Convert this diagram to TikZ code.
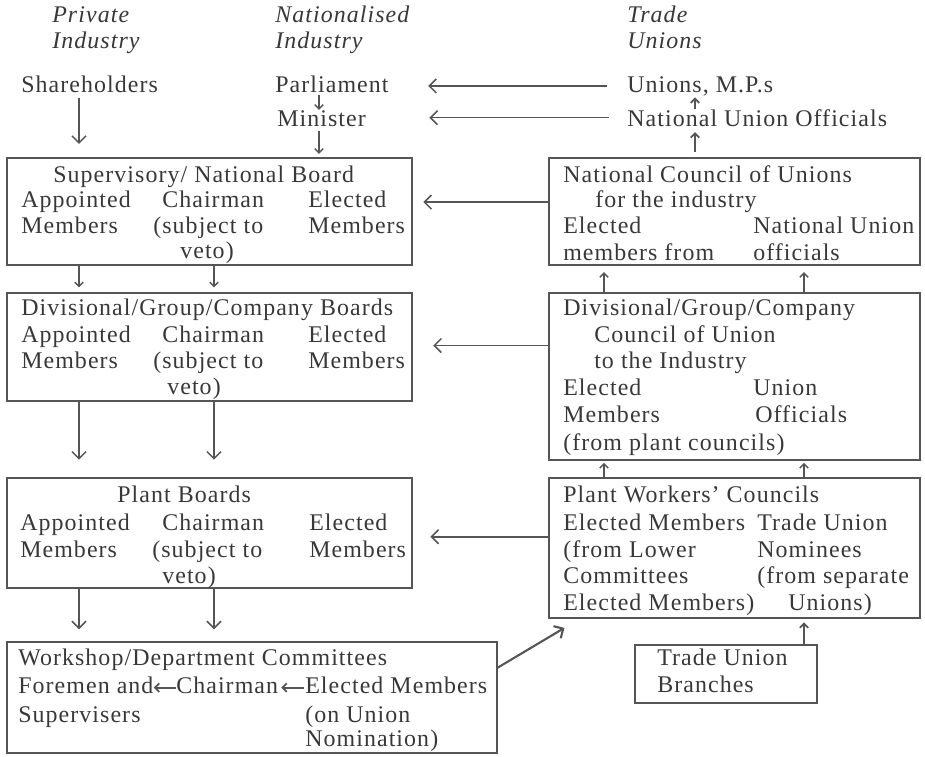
\documentclass[tikz,border=0pt]{standalone}
\usepackage{fontspec}
\setmainfont{Liberation Serif}[LetterSpace=4.5]
\usetikzlibrary{arrows.meta}

\definecolor{ink}{HTML}{383838}
\definecolor{rule}{HTML}{555555}

\begin{document}
\begin{tikzpicture}[
  x=0.025cm, y=-0.025cm,
  font=\fontsize{17pt}{19pt}\selectfont,
  box/.style={draw=rule, line width=1.6pt, anchor=north west,
              inner sep=0pt, outer sep=0pt},
  txt/.style={anchor=base west, inner sep=0pt, text=ink},
  hd/.style={txt, font=\fontsize{17pt}{19pt}\selectfont\itshape},
  arr/.style={-{Straight Barb[length=5pt,width=10pt]}, line width=1.1pt, draw=rule},
  sarr/.style={-{Straight Barb[length=3pt,width=6pt]}, line width=1pt, draw=rule},
]
\useasboundingbox (0,0) rectangle (925,756);

% --- headings ---
\node[hd] (h-pi1) at (52,22)  {Private};
\node[hd] (h-pi2) at (52,48)  {Industry};
\node[hd] (h-ni1) at (275,22) {Nationalised};
\node[hd] (h-ni2) at (275,48) {Industry};
\node[hd] (h-tu1) at (627,22) {Trade};
\node[hd] (h-tu2) at (627,48) {Unions};

% --- top line ---
\node[txt] (sh)   at (21,92)   {Shareholders};
\node[txt] (parl) at (275,92)  {Parliament};
\node[txt] (min)  at (277,126) {Minister};
\node[txt] (ump)  at (627,92)  {Unions, M.P.s};
\node[txt] (nuo)  at (627,126) {National Union Officials};

% --- boxes ---
\node[box, minimum width=10.125cm, minimum height=2.675cm] (sup)   at (7,158)   {};
\node[box, minimum width=10.125cm, minimum height=2.7cm]   (div)   at (7,293)   {};
\node[box, minimum width=10.125cm, minimum height=2.75cm]  (plant) at (7,478)   {};
\node[box, minimum width=12.25cm,  minimum height=2.775cm] (work)  at (7,642)   {};
\node[box, minimum width=9.275cm,  minimum height=2.675cm] (ncu)   at (549,158) {};
\node[box, minimum width=9.275cm,  minimum height=4.175cm] (dcu)   at (549,293) {};
\node[box, minimum width=9.275cm,  minimum height=3.5cm]   (pwc)   at (549,478) {};
\node[box, minimum width=4.55cm,   minimum height=1.45cm]  (tub)   at (635,645) {};

% --- supervisory board ---
\node[txt] (sup-t)  at (53,182)  {Supervisory/ National Board};
\node[txt] (sup-a1) at (21,207)  {Appointed};
\node[txt] (sup-a2) at (21,233)  {Members};
\node[txt] (sup-c1) at (162,207) {Chairman};
\node[txt] (sup-c2) at (153,233) {(subject to};
\node[txt] (sup-c3) at (180,258) {veto)};
\node[txt] (sup-e1) at (308,207) {Elected};
\node[txt] (sup-e2) at (308,233) {Members};

% --- divisional boards ---
\node[txt] (div-t)  at (21,315)  {Divisional/Group/Company Boards};
\node[txt] (div-a1) at (21,342)  {Appointed};
\node[txt] (div-a2) at (21,368)  {Members};
\node[txt] (div-c1) at (162,342) {Chairman};
\node[txt] (div-c2) at (153,368) {(subject to};
\node[txt] (div-c3) at (167,394) {veto)};
\node[txt] (div-e1) at (308,342) {Elected};
\node[txt] (div-e2) at (308,368) {Members};

% --- plant boards ---
\node[txt] (pl-t)  at (117,502) {Plant Boards};
\node[txt] (pl-a1) at (20,530)  {Appointed};
\node[txt] (pl-a2) at (20,557)  {Members};
\node[txt] (pl-c1) at (162,530) {Chairman};
\node[txt] (pl-c2) at (152,557) {(subject to};
\node[txt] (pl-c3) at (162,583) {veto)};
\node[txt] (pl-e1) at (309,530) {Elected};
\node[txt] (pl-e2) at (309,557) {Members};

% --- workshop committees ---
\node[txt] (w-t)  at (18,665)  {Workshop/Department Committees};
\node[txt] (w-fo) at (18,693)  {Foremen and};
\node[txt] (w-su) at (18,722)  {Supervisers};
\node[txt] (w-ch) at (176,693) {Chairman};
\node[txt] (w-el) at (305,693) {Elected Members};
\node[txt] (w-ou) at (305,722) {(on Union};
\node[txt] (w-no) at (305,746) {Nomination)};

% --- national council ---
\node[txt] (ncu-t)  at (563,182) {National Council of Unions};
\node[txt] (ncu-t2) at (595,207) {for the industry};
\node[txt] (ncu-e1) at (563,233) {Elected};
\node[txt] (ncu-e2) at (563,260) {members from};
\node[txt] (ncu-o1) at (753,233) {National Union};
\node[txt] (ncu-o2) at (753,260) {officials};

% --- divisional council ---
\node[txt] (dcu-t)  at (563,315) {Divisional/Group/Company};
\node[txt] (dcu-t2) at (594,342) {Council of Union};
\node[txt] (dcu-t3) at (594,368) {to the Industry};
\node[txt] (dcu-e1) at (563,395) {Elected};
\node[txt] (dcu-e2) at (563,422) {Members};
\node[txt] (dcu-e3) at (563,450) {(from plant councils)};
\node[txt] (dcu-o1) at (753,395) {Union};
\node[txt] (dcu-o2) at (755,422) {Officials};

% --- plant workers' councils ---
\node[txt] (pwc-t)  at (563,502) {Plant Workers' Councils};
\node[txt] (pwc-e1) at (563,530) {Elected Members};
\node[txt] (pwc-e2) at (563,557) {(from Lower};
\node[txt] (pwc-e3) at (563,583) {Committees};
\node[txt] (pwc-e4) at (563,610) {Elected Members)};
\node[txt] (pwc-n1) at (757,530) {Trade Union};
\node[txt] (pwc-n2) at (757,557) {Nominees};
\node[txt] (pwc-n3) at (757,583) {(from separate};
\node[txt] (pwc-n4) at (788,610) {Unions)};

% --- branches ---
\node[txt] (tub-1) at (657,665) {Trade Union};
\node[txt] (tub-2) at (657,692) {Branches};

% --- arrow columns ---
\coordinate (cl) at (79,0);
\coordinate (cm) at (214,0);
\coordinate (cp) at (319,0);
\coordinate (cu) at (695,0);
\coordinate (cr) at (604,0);
\coordinate (cs) at (804,0);

% --- downward chain ---
\draw[arr, shorten <=4pt, shorten >=10pt] (sh.south -| cl) -- (sup.north -| cl);
\draw[sarr, shorten <=2pt] (parl.south -| cp) -- (min.north -| cp);
\draw[sarr, shorten <=3pt, shorten >=3pt] (min.south -| cp) -- (sup.north -| cp);
\draw[sarr, shorten >=4pt] (sup.south -| cl) -- (div.north -| cl);
\draw[sarr, shorten >=4pt] (sup.south -| cm) -- (div.north -| cm);
\draw[arr, shorten >=13pt] (div.south -| cl) -- (plant.north -| cl);
\draw[arr, shorten >=13pt] (div.south -| cm) -- (plant.north -| cm);
\draw[arr, shorten >=9pt] (plant.south -| cl) -- (work.north -| cl);
\draw[arr, shorten >=9pt] (plant.south -| cm) -- (work.north -| cm);

% --- union side, upward ---
\draw[sarr, line width=1.3pt, shorten <=4pt, shorten >=4pt] (ncu.north -| cu) -- (nuo.south -| cu);
\draw[sarr, line width=1.3pt, shorten >=1pt] (nuo.north -| cu) -- (ump.south -| cu);
\draw[sarr, shorten >=5pt] (dcu.north -| cr) -- (ncu.south -| cr);
\draw[sarr, shorten >=5pt] (dcu.north -| cs) -- (ncu.south -| cs);
\draw[sarr, shorten >=2pt] (pwc.north -| cr) -- (dcu.south -| cr);
\draw[sarr, shorten >=2pt] (pwc.north -| cs) -- (dcu.south -| cs);
\draw[sarr, line width=1.3pt, shorten >=3pt] (tub.north -| cs) -- (pwc.south -| cs);
\draw[arr, line width=1.5pt] ([yshift=21pt]work.east) -- ([xshift=11pt,yshift=-7pt]pwc.south west);

% --- across ---
\draw[arr, shorten <=14pt, shorten >=28pt] (ump.west) -- (ump.west -| parl.east);
\draw[arr, shorten <=13pt, shorten >=45pt] (nuo.west) -- (nuo.west -| min.east);
\draw[arr, shorten >=8pt]  ([yshift=6.7pt]ncu.west) -- ([yshift=6.7pt]ncu.west -| sup.east);
\draw[arr, shorten >=15pt] ([yshift=22pt]dcu.west)  -- ([yshift=22pt]dcu.west -| div.east);
\draw[arr, shorten >=13pt] ([yshift=8pt]pwc.west)   -- ([yshift=8pt]pwc.west -| plant.east);

% --- inside workshop box ---
\draw[sarr, line width=1.3pt] ([yshift=-2pt]w-ch.west) -- ([yshift=-2pt]w-ch.west -| w-fo.east);
\draw[sarr, line width=1.3pt, shorten <=1pt, shorten >=2pt] ([yshift=-2pt]w-el.west) -- ([yshift=-2pt]w-el.west -| w-ch.east);
\end{tikzpicture}
\end{document}
